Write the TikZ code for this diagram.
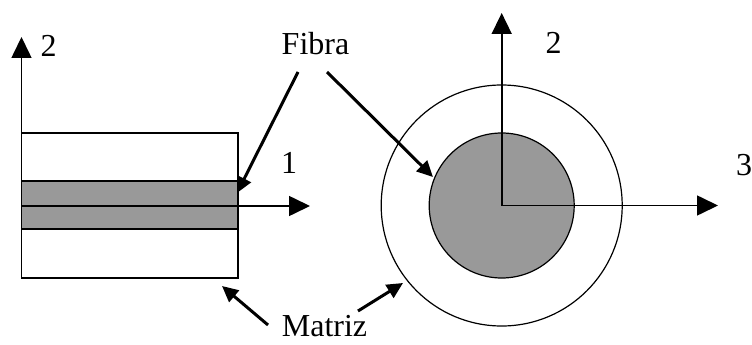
\documentclass[tikz,border=0pt]{standalone}
\usepackage{fontspec}
\setmainfont{Liberation Serif}
\usetikzlibrary{arrows.meta}
\begin{document}
\begin{tikzpicture}[x=1pt,y=-1pt,
  axis/.style={line width=1.6pt,-{Triangle[length=21pt,width=20pt]}},
  pointer/.style={line width=3pt,-{Triangle[length=16pt,width=15pt]}},
  lbl/.style={font=\fontsize{32}{36}\selectfont,anchor=base,inner sep=0pt},
  fibrefill/.style={fill={rgb,255:red,153;green,153;blue,153}}]
\useasboundingbox (0,0) rectangle (752,345);
% left panel
\draw[line width=1.2pt] (21.5,133) rectangle (238,278);
\draw[line width=1.2pt,fibrefill] (21.5,181) rectangle (238,229);
\coordinate (o1) at (21.5,206);
\coordinate (x1) at (310,206);
\coordinate (y1) at (21.5,37);
\draw[axis] (o1) -- (x1);
\draw[axis] (o1) -- (y1);
\node[lbl] (l2a) at (48.5,57) {2};
\node[lbl] (l1) at (289,173) {1};
% right panel
\coordinate (c) at (501.7,205.5);
\draw[line width=1.2pt] (c) circle[radius=120.5];
\draw[line width=1.2pt,fibrefill] (c) circle[radius=72.5];
\coordinate (x3) at (718,205.5);
\coordinate (y2) at (501.7,13);
\draw[axis] (c) -- (x3);
\draw[axis] (c) -- (y2);
\node[lbl] (l2b) at (553.5,53) {2};
\node[lbl] (l3) at (744,175) {3};
% labels and pointers
\node[lbl] (fibra) at (315.5,55) {Fibra};
\node[lbl] (matriz) at (324.5,336) {Matriz};
\coordinate (fa) at (298,72);
\coordinate (fat) at (237,193);
\coordinate (fb) at (327,72);
\coordinate (fbt) at (433,177);
\coordinate (ma) at (268,325);
\coordinate (mat) at (222,286);
\coordinate (mb) at (358,311);
\coordinate (mbt) at (403,283);
\draw[pointer] (fa) -- (fat);
\draw[pointer] (fb) -- (fbt);
\draw[pointer] (ma) -- (mat);
\draw[pointer] (mb) -- (mbt);
\end{tikzpicture}
\end{document}
